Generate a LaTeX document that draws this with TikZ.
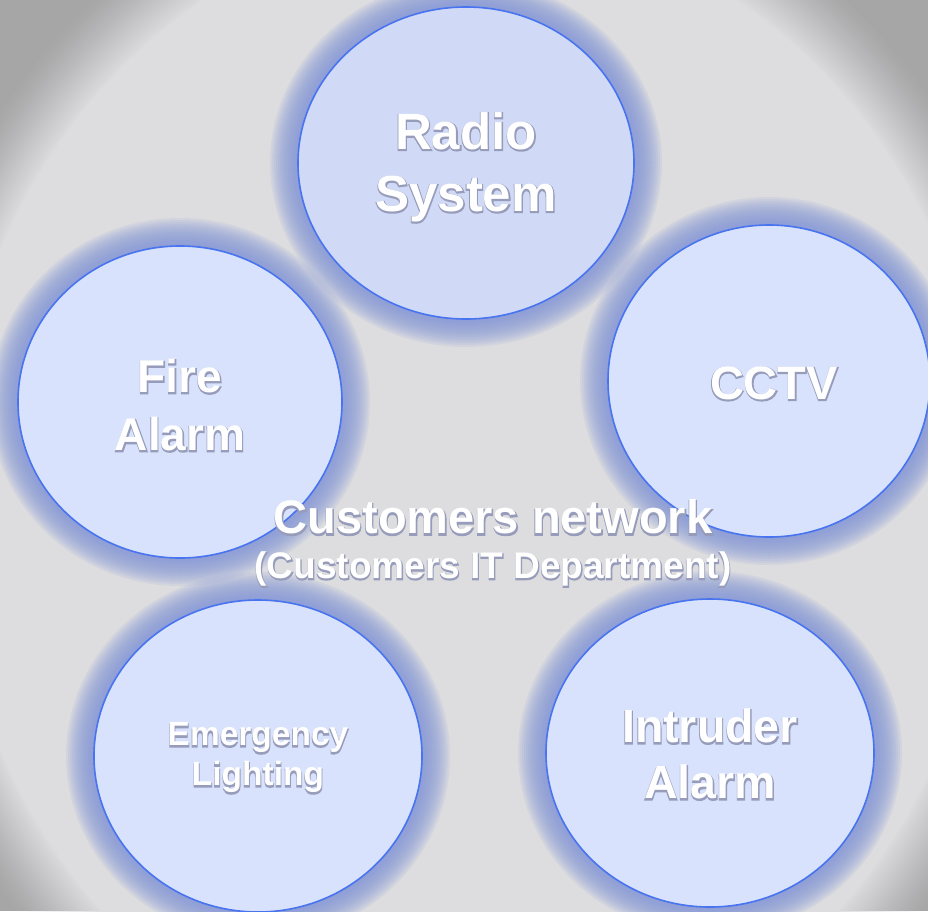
\documentclass[tikz,border=0pt]{standalone}
\usepackage{fontspec}
\setmainfont{Liberation Sans}
\newfontfamily\labelFont{Liberation Sans Bold}
\newfontfamily\outlineFont[FakeBold=4]{Liberation Sans Bold}
\usetikzlibrary{shapes.geometric}
\definecolor{bgInner}{RGB}{221,221,223}
\definecolor{bgOuter}{RGB}{166,166,166}
\definecolor{haloColor}{RGB}{132,150,214}
\definecolor{ringColor}{RGB}{72,116,240}
\definecolor{discColor}{RGB}{216,226,252}
\definecolor{discDarkColor}{RGB}{208,218,246}
\definecolor{outlineColor}{RGB}{150,156,186}
\tikzstyle{plan} = [x = 1pt, y = -1pt]
\tikzstyle{disc} = [ellipse, draw=ringColor, line width=1.6pt, fill=discColor, inner sep=0pt]
\tikzstyle{discText} = [text=white, align=center, inner sep=0pt]
\tikzstyle{discShadow} = [text=outlineColor, align=center, inner sep=0pt]
\newcommand{\halo}[4]{
  \foreach \grow in {0,2,...,28} {
    \fill [haloColor, opacity=.12] (#1,#2) ellipse ({#3 + \grow} and {#4 + \grow});
  }
}
\newcommand{\discLabel}[6]{
  \node [discShadow, #3, yshift=-1pt, font={\outlineFont\fontsize{#4}{#5}\selectfont}] (#1Shadow) at (#2) {#6};
  \node [discText, #3, font={\labelFont\fontsize{#4}{#5}\selectfont}] (#1Text) at (#2) {#6};
}
\begin{document}
\begin{tikzpicture}[plan]
  \useasboundingbox (0,0) rectangle (928,911);
  \clip (0,0) rectangle (928,911);
  % grey vignette
  \fill [bgOuter] (0,0) rectangle (928,911);
  \foreach \k in {0,...,29} {
    \pgfmathsetmacro{\fade}{1/(30 - \k)}
    \pgfmathsetmacro{\spread}{1.06 - .004 * \k}
    \fill [bgInner, opacity=\fade] (470,500) ellipse ({551 * \spread} and {617 * \spread});
  }
  % glow round the discs
  \halo{466}{163}{168}{156}
  \halo{180}{402}{162}{156}
  \halo{769}{381}{161}{156}
  \halo{258}{756}{164}{156}
  \halo{710}{753}{164}{154}
  % discs
  \node [disc, fill=discDarkColor, minimum width=336pt, minimum height=312pt] (radio) at (466,163) {};
  \node [disc, minimum width=324pt, minimum height=312pt] (fire) at (180,402) {};
  \node [disc, minimum width=322pt, minimum height=312pt] (cctv) at (769,381) {};
  \node [disc, minimum width=328pt, minimum height=312pt] (lighting) at (258,756) {};
  \node [disc, minimum width=328pt, minimum height=308pt] (intruder) at (710,753) {};
  % labels
  \discLabel{radio}{radio.center}{yshift=-4pt}{51}{62}{Radio\\System}
  \discLabel{fire}{fire.center}{yshift=-3pt}{46}{58}{Fire\\Alarm}
  \discLabel{cctv}{cctv.center}{xshift=5pt,yshift=-2pt}{47}{56}{CCTV}
  \discLabel{lighting}{lighting.center}{yshift=-2pt}{33.5}{40}{Emergency\\Lighting}
  \discLabel{intruder}{intruder.center}{yshift=-1pt}{46.5}{56}{Intruder\\Alarm}
  \coordinate (network) at (493,517);
  \coordinate (networkSub) at (493,569);
  \discLabel{network}{network}{}{47}{48}{Customers network}
  \discLabel{networkSub}{networkSub}{}{37}{40}{(Customers IT Department)}
\end{tikzpicture}
\end{document}
